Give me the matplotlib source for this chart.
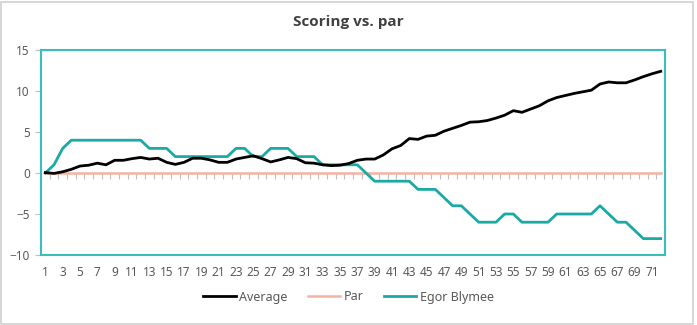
import matplotlib
matplotlib.use("Agg")
import matplotlib.pyplot as plt
from matplotlib.patches import Rectangle

# Dados do gráfico
buracos = list(range(1, 73))

media = [0.05, -0.05, 0.15, 0.45, 0.85, 0.95, 1.2, 1.0, 1.55, 1.55,
         1.75, 1.9, 1.7, 1.8, 1.3, 1.05, 1.3, 1.8, 1.8, 1.6,
         1.3, 1.3, 1.7, 1.9, 2.1, 1.75, 1.35, 1.6, 1.9, 1.75,
         1.25, 1.2, 1.0, 0.9, 0.95, 1.15, 1.55, 1.7, 1.7, 2.2,
         2.95, 3.35, 4.2, 4.1, 4.5, 4.6, 5.1, 5.45, 5.8, 6.2,
         6.25, 6.4, 6.7, 7.05, 7.6, 7.4, 7.8, 8.2, 8.8, 9.2,
         9.45, 9.7, 9.9, 10.1, 10.85, 11.1, 11.0, 11.0, 11.35, 11.75,
         12.1, 12.4]

par = [0] * 72

egor = [0, 1, 3, 4, 4, 4, 4, 4, 4, 4,
        4, 4, 3, 3, 3, 2, 2, 2, 2, 2,
        2, 2, 3, 3, 2, 2, 3, 3, 3, 2,
        2, 2, 1, 1, 1, 1, 1, 0, -1, -1,
        -1, -1, -1, -2, -2, -2, -3, -4, -4, -5,
        -6, -6, -6, -5, -5, -6, -6, -6, -6, -5,
        -5, -5, -5, -5, -4, -5, -6, -6, -7, -8,
        -8, -8]

rotulos_x = list(range(1, 73, 2))
rotulos_y = [-10, -5, 0, 5, 10, 15]

plt.rcParams['font.family'] = ['Noto Sans', 'DejaVu Sans']

fig = plt.figure(figsize=(6.97, 3.25), dpi=100)
ax = fig.add_axes([41 / 697, 1 - 255 / 325, 624 / 697, 205 / 325])

cor_texto = "#595959"
cor_teal = "#1AAAA6"

ax.plot(buracos, media, color="black", lw=2.0, label="Average", zorder=4)
ax.plot(buracos, par, color="#F4B3A4", lw=1.8, label="Par", zorder=2)
ax.plot(buracos, egor, color=cor_teal, lw=2.0, label="Egor Blymee", zorder=3)

ax.set_xlim(0.5, 72.5)
ax.set_ylim(-10, 15)

ax.set_xticks(rotulos_x)
ax.set_xticklabels([str(v) for v in rotulos_x])
ax.tick_params(axis="x", length=0, pad=8, labelsize=8.5, labelcolor=cor_texto)
ax.set_yticks(rotulos_y)
ax.tick_params(axis="y", length=4, width=0.8, color="#BFBFBF", labelsize=8.5,
               labelcolor=cor_texto, pad=4)

# Borda da área de plotagem em verde-azulado
for lado in ax.spines.values():
    lado.set_color("#3BBDB9")
    lado.set_linewidth(1.5)

# Eixo de categorias cruzando em zero, com marcas entre as categorias
eixo0 = ax.secondary_xaxis(10 / 25)
eixo0.set_xticks([k + 0.5 for k in range(0, 73)])
eixo0.set_xticklabels([])
eixo0.tick_params(axis="x", direction="out", length=4, width=0.8, color="#BFBFBF")
eixo0.spines["bottom"].set_visible(False)

fig.suptitle("Scoring vs. par", x=0.5, y=0.955, fontsize=11, fontweight="bold",
             color="#404040", family=["Open Sans", "DejaVu Sans"])

fig.legend(loc="center", bbox_to_anchor=(0.5, 1 - 297 / 325), ncol=3, frameon=False,
           fontsize=9, labelcolor=cor_texto, handlelength=2.6, handletextpad=0.3,
           columnspacing=1.6)

# Borda externa do gráfico
fig.patches.append(Rectangle((0.002, 0.004), 0.992, 0.99, transform=fig.transFigure,
                             fill=False, edgecolor="#D0D0D0", lw=1.2))

fig.savefig("out.png", dpi=100)
